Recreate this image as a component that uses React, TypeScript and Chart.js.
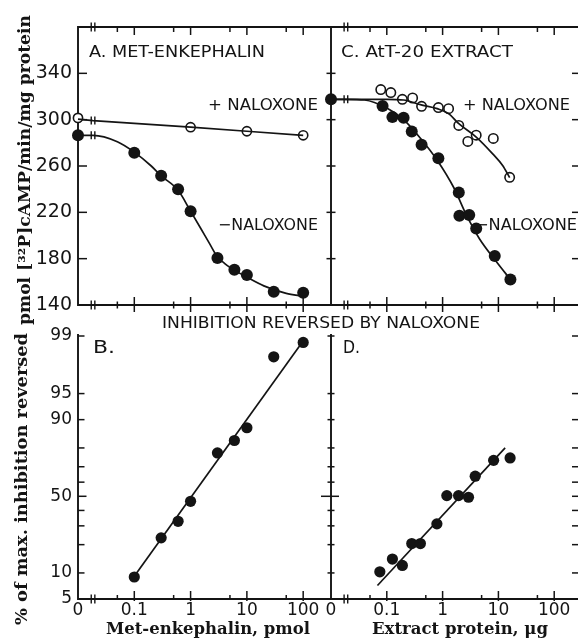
import { useEffect, useRef } from 'react';
import { Chart, registerables, Scale } from 'chart.js';

// ---------------- data ----------------
const X_MIN = 0.01; // where "0" sits on the broken log axes
const BREAK_AT = 0.0185; // axis break position
const X_MAX_LEFT = 312;
const X_MAX_RIGHT = 302;
const X_TICKS = [0.05, 0.1, 0.5, 1, 5, 10, 50, 100];
const X_MAJOR = [0.1, 1, 10, 100];
const X_LABEL_VALUES = [X_MIN, 0.1, 1, 10, 100];

const CAMP_MIN = 140;
const CAMP_MAX = 380;
const CAMP_TICKS = [140, 180, 220, 260, 300, 340];

const PCT_MIN = 5;
const PCT_MAX = 99;
const PCT_TICKS = [5, 10, 20, 30, 40, 50, 60, 70, 80, 90, 95, 99];
const PCT_LABELS = [5, 10, 50, 90, 95, 99];

// Panel A: Met-enkephalin (pmol) vs cAMP
const A_DOSE = [0, 0.1, 0.3, 0.6, 1, 3, 6, 10, 30, 100];
const A_CAMP_MINUS = [286.5, 271.5, 251.5, 240, 221, 180.5, 170.5, 166, 151.5, 150.5];
const A_DOSE_PLUS = [0, 1, 10, 100];
const A_CAMP_PLUS = [301.5, 293.5, 290, 286.5];
const A_FIT_DOSE = [0, BREAK_AT, 0.05, 0.1, 0.2, 0.3, 0.6, 1, 1.5, 2.2, 3, 4, 5, 10, 20, 50, 100];
const A_FIT_MINUS = [286.5, 286.5, 281, 272, 260, 251.5, 239, 221, 206.5, 192.5, 181.5, 176, 172.5, 164, 156.5, 150, 147.5];
const A_LINE_DOSE_PLUS = [0, BREAK_AT, 1, 10, 100];
const A_LINE_PLUS = [300.5, 299.2, 293.5, 290, 286.5];

// Panel C: AtT-20 extract (µg) vs cAMP
const C_DOSE_MINUS = [0, 0.084, 0.126, 0.2, 0.28, 0.42, 0.84, 1.95, 2.0, 3.0, 4.0, 8.6, 16.4];
const C_CAMP_MINUS = [317.6, 311.8, 302.2, 301.7, 289.8, 278.3, 266.7, 237.2, 217, 217.6, 206, 182.3, 162.1];
const C_DOSE_PLUS = [0.078, 0.118, 0.19, 0.29, 0.42, 0.84, 1.28, 1.95, 2.83, 4.0, 8.1, 15.9];
const C_CAMP_PLUS = [326, 323.4, 317.6, 318.7, 311.5, 310.4, 309.5, 295, 281.2, 286.6, 283.8, 250.2];
const C_FIT_DOSE_MINUS = [0, BREAK_AT, 0.04, 0.1, 0.2, 0.4, 0.8, 1.6, 2.65, 4.6, 9, 16.4];
const C_FIT_MINUS = [317.6, 317.6, 317, 310, 300, 284, 265, 241, 218, 197, 178, 162];
const C_FIT_DOSE_PLUS = [0, BREAK_AT, 0.1, 0.2, 0.4, 0.8, 1.3, 1.95, 4.0, 7.9, 11.9, 15.9];
const C_FIT_PLUS = [317.6, 317.6, 317.6, 317, 313, 309.5, 305, 296.5, 285, 270.5, 260.4, 250];

// Panel B: Met-enkephalin vs % of max. inhibition reversed
const B_DOSE = [0.1, 0.3, 0.6, 1, 3, 6, 10, 30, 100];
const B_PCT = [9.0, 23.3, 32.8, 46.4, 77.6, 83.2, 87.7, 98.2, 98.8];
const B_FIT_DOSE = [0.1, 105];
const B_FIT_PCT = [9.2, 98.9];

// Panel D: extract protein vs % of max. inhibition reversed
const D_DOSE = [0.075, 0.126, 0.19, 0.28, 0.4, 0.79, 1.19, 1.93, 2.91, 3.84, 8.2, 16.2];
const D_PCT = [10.3, 14.2, 12.1, 20.5, 20.5, 31.2, 50.5, 50.5, 49.3, 64.0, 73.7, 75.0];
const D_FIT_DOSE = [0.068, 13.2];
const D_FIT_PCT = [7.2, 80.0];

// ---------------- styling ----------------
const W = 592;
const H = 641;
const INK = '#141414';
const SANS = "'DejaVu Sans', 'Noto Sans', sans-serif";
const SERIF = "'DejaVu Serif', 'Liberation Serif', serif";
const AX = 1.9;
const Y_LABEL_BAND = 70; // width reserved for y tick labels (left panels)
const X_LABEL_BAND = 30; // height reserved for x tick labels (bottom panels)

// ---------------- logit (probability) scale ----------------
const logit = (p: number) => Math.log(p / (100 - p));

class LogitScale extends Scale {
  static id = 'logit';
  static defaults = {};
  determineDataLimits() {
    const o: any = this.options;
    this.min = o.min;
    this.max = o.max;
  }
  buildTicks() {
    return PCT_TICKS.map((value) => ({ value }));
  }
  getLabelForValue(value: number) {
    return String(value);
  }
  configure() {
    super.configure();
    (this as any)._lo = logit(this.min);
    (this as any)._span = logit(this.max) - logit(this.min);
  }
  getPixelForValue(value: number) {
    const s: any = this;
    return this.getPixelForDecimal((logit(value) - s._lo) / s._span);
  }
  getValueForPixel(pixel: number) {
    const s: any = this;
    const l = s._lo + this.getDecimalForPixel(pixel) * s._span;
    return 100 / (1 + Math.exp(-l));
  }
}

Chart.register(...registerables, LogitScale as any);

// ---------------- helpers ----------------
const pts = (xs: number[], ys: number[]) => xs.map((x, i) => ({ x: x === 0 ? X_MIN : x, y: ys[i] }));

const curve = (data: any[]) => ({
  data, showLine: true, pointRadius: 0, borderColor: INK, borderWidth: 1.7,
  cubicInterpolationMode: 'monotone', fill: false, clip: false,
});
const straight = (data: any[]) => ({
  data, showLine: true, pointRadius: 0, borderColor: INK, borderWidth: 1.7, tension: 0, fill: false, clip: false,
});
const filled = (data: any[], r: number) => ({
  data, showLine: false, pointStyle: 'circle', pointRadius: r, pointBackgroundColor: INK,
  pointBorderColor: INK, pointBorderWidth: 0, backgroundColor: INK, borderColor: INK, clip: false,
});
const open = (data: any[], r: number) => ({
  data, showLine: false, pointStyle: 'circle', pointRadius: r, pointBackgroundColor: '#ffffff',
  pointBorderColor: INK, pointBorderWidth: 1.6, backgroundColor: '#ffffff', borderColor: INK, clip: false,
});

function seg(ctx: CanvasRenderingContext2D, x1: number, y1: number, x2: number, y2: number, w = 1.5) {
  ctx.beginPath();
  ctx.lineWidth = w;
  ctx.strokeStyle = INK;
  ctx.lineCap = 'butt';
  ctx.moveTo(x1, y1);
  ctx.lineTo(x2, y2);
  ctx.stroke();
}

function vBreak(ctx: CanvasRenderingContext2D, x: number, y: number, h = 4.5) {
  seg(ctx, x - 1.8, y - h, x - 1.8, y + h, 1.4);
  seg(ctx, x + 1.8, y - h, x + 1.8, y + h, 1.4);
}

function xTicks(ctx: CanvasRenderingContext2D, sx: any, y: number, upMaj: number, dnMaj: number, upMin: number, dnMin: number) {
  for (const v of X_TICKS) {
    const x = sx.getPixelForValue(v);
    const maj = X_MAJOR.includes(v);
    seg(ctx, x, y - (maj ? upMaj : upMin), x, y + (maj ? dnMaj : dnMin), 1.5);
  }
}

function yTicks(ctx: CanvasRenderingContext2D, sy: any, x: number, values: number[], lft: number, rgt: number, longV?: number, longL = 0, longR = 0) {
  for (const v of values) {
    const y = sy.getPixelForValue(v);
    const isLong = v === longV;
    seg(ctx, x - (isLong ? longL : lft), y, x + (isLong ? longR : rgt), y, 1.5);
  }
}

function fitText(
  ctx: CanvasRenderingContext2D, text: string, x: number, y: number, width: number, font: string,
  align: 'left' | 'center' = 'left', rotate = false,
) {
  ctx.save();
  ctx.font = font;
  ctx.fillStyle = INK;
  ctx.textBaseline = 'alphabetic';
  ctx.textAlign = 'left';
  const w = ctx.measureText(text).width;
  ctx.translate(x, y);
  if (rotate) ctx.rotate(-Math.PI / 2);
  ctx.scale(width / w, 1);
  ctx.fillText(text, align === 'center' ? -w / 2 : 0, 0);
  ctx.restore();
}

function drawTexts(ctx: CanvasRenderingContext2D) {
  const f16 = `16px ${SANS}`;
  fitText(ctx, 'A. MET-ENKEPHALIN', 89, 57, 176, f16);
  fitText(ctx, '+ NALOXONE', 208, 110, 110, f16);
  fitText(ctx, '\u2212NALOXONE', 218, 230, 100, f16);
  fitText(ctx, 'C. AtT-20 EXTRACT', 341, 57, 172, f16);
  fitText(ctx, '+ NALOXONE', 463, 110, 107, f16);
  fitText(ctx, '\u2212NALOXONE', 475, 230, 102, f16);
  fitText(ctx, 'INHIBITION REVERSED BY NALOXONE', 162, 328, 318, `15px ${SANS}`);
  fitText(ctx, 'B.', 93, 353, 22, `18px ${SANS}`);
  fitText(ctx, 'D.', 343, 353, 17, `18px ${SANS}`);
  fitText(ctx, 'pmol [\u00B3\u00B2P]cAMP/min/mg protein', 30, 170, 310, `bold 16px ${SERIF}`, 'center', true);
  fitText(ctx, '% of max. inhibition reversed', 27, 479, 292, `bold 16px ${SERIF}`, 'center', true);
  fitText(ctx, 'Met-enkephalin, pmol', 208, 634, 204, `bold 17px ${SERIF}`, 'center');
  fitText(ctx, 'Extract protein, \u03BCg', 460, 634, 176, `bold 17px ${SERIF}`, 'center');
}

const fitTo = (size: number) => (s: any) => {
  if (s.isHorizontal()) s.height = size;
  else s.width = size;
  s.paddingLeft = 0;
  s.paddingRight = 0;
  s.paddingTop = 0;
  s.paddingBottom = 0;
};

const xScale = (max: number, labels: boolean) => ({
  type: 'logarithmic',
  min: X_MIN,
  max,
  grid: { display: false, drawTicks: false },
  border: { display: false },
  afterBuildTicks: (s: any) => {
    s.ticks = X_LABEL_VALUES.map((value) => ({ value }));
  },
  afterFit: fitTo(labels ? X_LABEL_BAND : 0),
  ticks: {
    display: labels,
    autoSkip: false,
    maxRotation: 0,
    minRotation: 0,
    padding: 1,
    color: INK,
    font: { family: SANS, size: 17 },
    callback: (v: number) => (Math.abs(v - X_MIN) < 1e-9 ? '0' : String(v)),
  },
});

const campY = (labels: boolean) => ({
  type: 'linear',
  min: CAMP_MIN,
  max: CAMP_MAX,
  grid: { display: false, drawTicks: false },
  border: { display: false },
  afterBuildTicks: (s: any) => {
    s.ticks = CAMP_TICKS.map((value) => ({ value }));
  },
  afterFit: fitTo(labels ? Y_LABEL_BAND : 0),
  ticks: { display: labels, autoSkip: false, padding: 6, color: INK, font: { family: SANS, size: 19 } },
});

const pctY = (labels: boolean) => ({
  type: 'logit',
  min: PCT_MIN,
  max: PCT_MAX,
  grid: { display: false, drawTicks: false },
  border: { display: false },
  afterFit: fitTo(labels ? Y_LABEL_BAND : 0),
  ticks: {
    display: labels,
    autoSkip: false,
    padding: 6,
    color: INK,
    font: { family: SANS, size: 17 },
    callback: (v: number) => (PCT_LABELS.includes(v) ? String(v) : ''),
  },
});

type Panel = {
  key: string;
  area: { left: number; top: number; right: number; bottom: number };
  yBand: number;
  xBand: number;
  x: any;
  y: any;
  datasets: any[];
  frame: (ctx: CanvasRenderingContext2D, c: any) => void;
  over: (ctx: CanvasRenderingContext2D, c: any) => void;
};

const PANELS: Panel[] = [
  {
    key: 'A',
    area: { left: 78, top: 27, right: 331, bottom: 305 },
    yBand: Y_LABEL_BAND,
    xBand: 0,
    x: xScale(X_MAX_LEFT, false),
    y: campY(true),
    datasets: [
      curve(pts(A_FIT_DOSE, A_FIT_MINUS)),
      straight(pts(A_LINE_DOSE_PLUS, A_LINE_PLUS)),
      filled(pts(A_DOSE, A_CAMP_MINUS), 6),
      open(pts(A_DOSE_PLUS, A_CAMP_PLUS), 4.6),
    ],
    frame: (ctx, c) => {
      const { left, right, top, bottom } = c.chartArea;
      seg(ctx, left, top - 1, left, bottom + 1, AX);
      seg(ctx, left, top, right, top, AX);
      seg(ctx, left, bottom, right, bottom, AX);
      xTicks(ctx, c.scales.x, top, 0, 8, 0, 5);
      xTicks(ctx, c.scales.x, bottom, 8, 7, 3.5, 3.5);
      yTicks(ctx, c.scales.y, left, CAMP_TICKS.slice(1), 0, 9);
    },
    over: (ctx, c) => {
      const { top, bottom } = c.chartArea;
      const bx = c.scales.x.getPixelForValue(BREAK_AT);
      vBreak(ctx, bx, top);
      vBreak(ctx, bx, bottom);
      vBreak(ctx, bx, c.scales.y.getPixelForValue(A_FIT_MINUS[1]), 4);
      vBreak(ctx, bx, c.scales.y.getPixelForValue(A_LINE_PLUS[1]), 4);
      drawTexts(ctx);
    },
  },
  {
    key: 'C',
    area: { left: 331, top: 27, right: 581, bottom: 305 },
    yBand: 0,
    xBand: 0,
    x: xScale(X_MAX_RIGHT, false),
    y: campY(false),
    datasets: [
      curve(pts(C_FIT_DOSE_MINUS, C_FIT_MINUS)),
      curve(pts(C_FIT_DOSE_PLUS, C_FIT_PLUS)),
      filled(pts(C_DOSE_MINUS, C_CAMP_MINUS), 6),
      open(pts(C_DOSE_PLUS, C_CAMP_PLUS), 4.7),
    ],
    frame: (ctx, c) => {
      const { left, right, top, bottom } = c.chartArea;
      seg(ctx, left, top - 1, left, bottom + 1, AX);
      seg(ctx, left, top, right, top, AX);
      seg(ctx, left, bottom, right, bottom, AX);
      seg(ctx, right, top, right, bottom, AX);
      xTicks(ctx, c.scales.x, top, 0, 8, 0, 5);
      xTicks(ctx, c.scales.x, bottom, 8, 7, 3.5, 3.5);
      yTicks(ctx, c.scales.y, left, CAMP_TICKS.slice(1), 4.5, 4.5);
      yTicks(ctx, c.scales.y, right, CAMP_TICKS.slice(1), 9, 0);
    },
    over: (ctx, c) => {
      const { top, bottom } = c.chartArea;
      const bx = c.scales.x.getPixelForValue(BREAK_AT);
      vBreak(ctx, bx, top);
      vBreak(ctx, bx, bottom);
      vBreak(ctx, bx, c.scales.y.getPixelForValue(C_FIT_MINUS[1]), 4);
    },
  },
  {
    key: 'B',
    area: { left: 78, top: 336, right: 331, bottom: 599 },
    yBand: Y_LABEL_BAND,
    xBand: X_LABEL_BAND,
    x: xScale(X_MAX_LEFT, true),
    y: pctY(true),
    datasets: [straight(pts(B_FIT_DOSE, B_FIT_PCT)), filled(pts(B_DOSE, B_PCT), 5.6)],
    frame: (ctx, c) => {
      const { left, right, top, bottom } = c.chartArea;
      seg(ctx, left, top - 2, left, bottom + 1, AX);
      seg(ctx, left, bottom, right, bottom, AX);
      xTicks(ctx, c.scales.x, bottom, 8, 2, 4, 0);
      yTicks(ctx, c.scales.y, left, PCT_TICKS.slice(1), 0, 6.5, 50, 0, 8.5);
    },
    over: (ctx, c) => {
      const bx = c.scales.x.getPixelForValue(BREAK_AT);
      vBreak(ctx, bx, c.chartArea.bottom);
    },
  },
  {
    key: 'D',
    area: { left: 331, top: 336, right: 581, bottom: 599 },
    yBand: 0,
    xBand: X_LABEL_BAND,
    x: xScale(X_MAX_RIGHT, true),
    y: pctY(false),
    datasets: [straight(pts(D_FIT_DOSE, D_FIT_PCT)), filled(pts(D_DOSE, D_PCT), 5.6)],
    frame: (ctx, c) => {
      const { left, right, top, bottom } = c.chartArea;
      seg(ctx, left, top - 2, left, bottom + 1, AX);
      seg(ctx, left, bottom, right, bottom, AX);
      seg(ctx, right, top, right, bottom, AX);
      xTicks(ctx, c.scales.x, bottom, 8, 2, 4, 0);
      yTicks(ctx, c.scales.y, left, PCT_TICKS, 3.5, 3.5, 50, 10, 8);
      yTicks(ctx, c.scales.y, right, PCT_TICKS.slice(1), 9, 0);
    },
    over: (ctx, c) => {
      const bx = c.scales.x.getPixelForValue(BREAK_AT);
      vBreak(ctx, bx, c.chartArea.bottom);
    },
  },
];

function buildConfig(p: Panel): any {
  return {
    type: 'scatter',
    data: { datasets: p.datasets },
    options: {
      responsive: false,
      maintainAspectRatio: false,
      animation: false,
      events: [],
      layout: {
        padding: {
          left: p.area.left - p.yBand,
          top: p.area.top,
          right: W - p.area.right,
          bottom: H - p.area.bottom - p.xBand,
        },
      },
      plugins: { legend: { display: false }, tooltip: { enabled: false }, title: { display: false } },
      scales: { x: p.x, y: p.y },
    },
    plugins: [
      {
        id: 'frame' + p.key,
        beforeDatasetsDraw: (c: any) => {
          c.ctx.save();
          p.frame(c.ctx, c);
          c.ctx.restore();
        },
        afterDatasetsDraw: (c: any) => {
          c.ctx.save();
          p.over(c.ctx, c);
          c.ctx.restore();
        },
      },
    ],
  };
}

export default function App() {
  const canvases = useRef<(HTMLCanvasElement | null)[]>([]);
  useEffect(() => {
    const charts = PANELS.map((p, i) => new Chart(canvases.current[i] as HTMLCanvasElement, buildConfig(p)));
    return () => charts.forEach((c) => c.destroy());
  }, []);
  return (
    <div
      style={{
        position: 'fixed', left: 0, top: 0, width: 578, height: 641, overflow: 'hidden', background: '#ffffff',
      }}
    >
      {PANELS.map((p, i) => (
        <canvas
          key={p.key}
          ref={(el) => {
            canvases.current[i] = el;
          }}
          width={W}
          height={H}
          style={{ position: 'absolute', left: 0, top: 0 }}
        />
      ))}
    </div>
  );
}
